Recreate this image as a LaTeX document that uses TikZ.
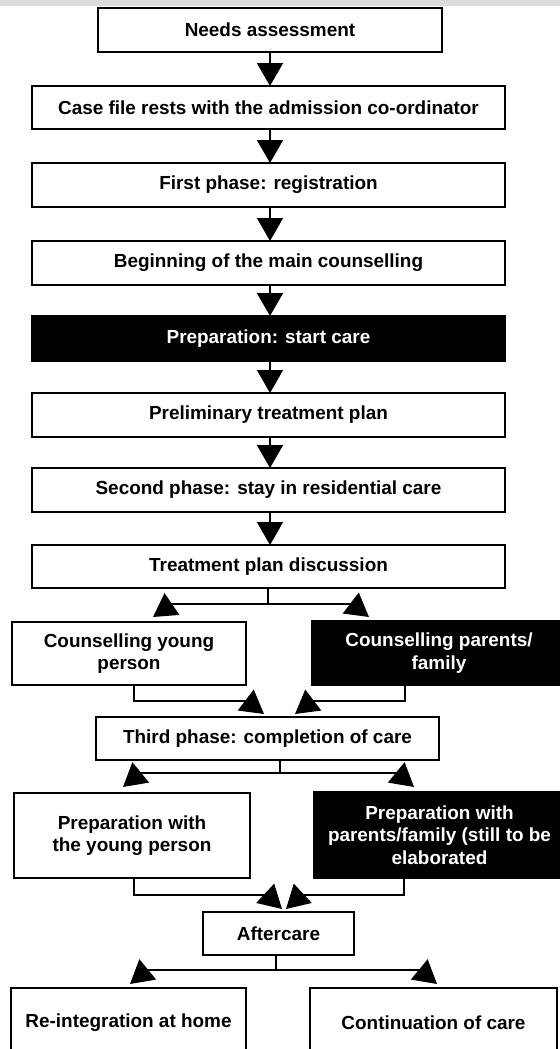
\documentclass[tikz,border=0pt]{standalone}
\usepackage{fontspec}
\setmainfont{Liberation Sans}
\usetikzlibrary{arrows.meta}
\begin{document}
\begin{tikzpicture}[x=1bp,y=-1bp,
  box/.style={draw=black, line width=1.7bp, fill=white, text=black,
    font=\fontsize{19}{22.5}\selectfont\bfseries, align=center,
    inner sep=0pt, outer sep=0pt},
  blk/.style={box, fill=black, text=white},
  conn/.style={line width=1.7bp, -{Triangle[length=23bp,width=26bp]}}]
\path[use as bounding box] (0,0) rectangle (560,1049);
\clip (0,0) rectangle (560,1049);
\fill[white] (0,0) rectangle (560,1049);
\fill[black!14] (0,0) rectangle (560,6);

% main column
\node[box, minimum width=344bp, minimum height=44bp] (b1) at (270,30) {Needs assessment};
\node[box, minimum width=473bp, minimum height=43bp] (b2) at (268.5,107.5) {Case file rests with the admission co-ordinator};
\node[box, minimum width=473bp, minimum height=44bp] (b3) at (268.5,185) {First phase: registration};
\node[box, minimum width=473bp, minimum height=44bp] (b4) at (268.5,263) {Beginning of the main counselling};
\node[blk, minimum width=473bp, minimum height=45bp] (b5) at (268.5,338.5) {Preparation: start care};
\node[box, minimum width=473bp, minimum height=44bp] (b6) at (268.5,415) {Preliminary treatment plan};
\node[box, minimum width=473bp, minimum height=44bp] (b7) at (268.5,490) {Second phase: stay in residential care};
\node[box, minimum width=473bp, minimum height=43bp] (b8) at (268.5,566.5) {Treatment plan discussion};

\draw[conn] (b1.south) -- (b1.south |- b2.north);
\draw[conn] (b1.south |- b2.south) -- (b1.south |- b3.north);
\draw[conn] (b1.south |- b3.south) -- (b1.south |- b4.north);
\draw[conn] (b1.south |- b4.south) -- (b1.south |- b5.north);
\draw[conn] (b1.south |- b5.south) -- (b1.south |- b6.north);
\draw[conn] (b1.south |- b6.south) -- (b1.south |- b7.north);
\draw[conn] (b1.south |- b7.south) -- (b1.south |- b8.north);

% counselling
\node[box, minimum width=234bp, minimum height=63bp] (c1) at (129,653.5) {Counselling young\\person};
\node[blk, minimum width=254bp, minimum height=64bp] (c2) at (439,653) {Counselling parents/\\family};

\coordinate (s8) at (268,604);
\coordinate (t8l) at (153,617);
\coordinate (t8r) at (369,617);
\draw[conn] (b8.south -| s8) |- (172,604) -- (t8l);
\draw[conn] (b8.south -| s8) |- (352,604) -- (t8r);

% third phase
\node[box, minimum width=343bp, minimum height=43bp] (t3) at (267.5,738.5) {Third phase: completion of care};

\coordinate (m1) at (264,714);
\coordinate (m2) at (295,714);
\draw[conn] ([xshift=5bp]c1.south) |- (247,701) -- (m1);
\draw[conn] ([xshift=-34bp]c2.south) |- (312,701) -- (m2);

% preparation
\node[box, minimum width=236bp, minimum height=85bp] (p1) at (132,835.5) {Preparation with\\the young person};
\node[blk, minimum width=251bp, minimum height=86bp] (p2) at (439.5,835) {Preparation with\\parents/family (still to be\\elaborated};

\coordinate (s3) at (280,773);
\coordinate (t3l) at (123,787);
\coordinate (t3r) at (414,787);
\draw[conn] (t3.south -| s3) |- (140,773) -- (t3l);
\draw[conn] (t3.south -| s3) |- (397,773) -- (t3r);

% aftercare
\node[box, minimum width=151bp, minimum height=43bp] (a) at (278.5,933.5) {Aftercare};

\coordinate (m3) at (282,909);
\coordinate (m4) at (286,909);
\draw[conn] ([xshift=2bp]p1.south) |- (267,895) -- (m3);
\draw[conn] ([xshift=-35.5bp]p2.south) |- (301,895) -- (m4);

% final
\node[box, minimum width=235bp, minimum height=70bp] (r1) at (128.5,1023) {Re-integration at home};
\node[box, minimum width=247bp, minimum height=70bp] (r2) at (433.5,1023) {Continuation of care};

\coordinate (s9) at (276,970);
\coordinate (tal) at (130,984);
\coordinate (tar) at (437,984);
\draw[conn] (a.south -| s9) |- (147,970) -- (tal);
\draw[conn] (a.south -| s9) |- (420,970) -- (tar);
\end{tikzpicture}
\end{document}
